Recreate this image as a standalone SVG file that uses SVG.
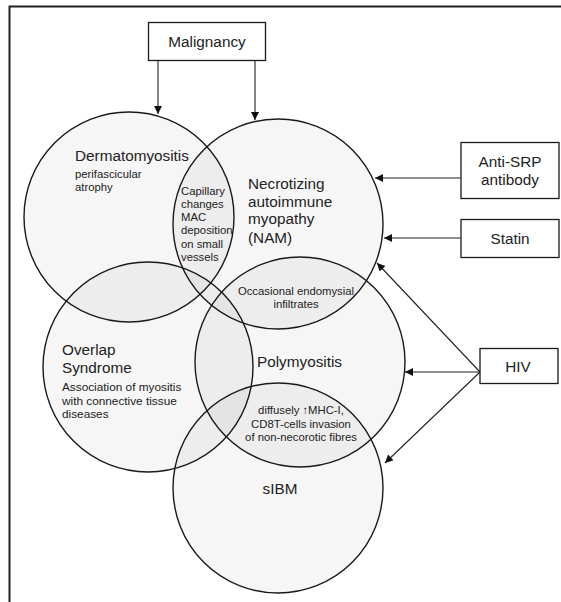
<svg xmlns="http://www.w3.org/2000/svg" width="561" height="602" viewBox="0 0 561 602">
<defs>
<marker id="ah" viewBox="0 0 10 10" refX="10" refY="5" markerWidth="9" markerHeight="8" markerUnits="userSpaceOnUse" orient="auto">
<path d="M0,0 L10,5 L0,10 z" fill="#111"/>
</marker>
</defs>
<style>
.c{fill:#000;fill-opacity:0.035;stroke:#1a1a1a;stroke-width:1.4}
.b{fill:#fff;stroke:#1a1a1a;stroke-width:1.3}
.t{font-family:"Liberation Sans",Arial,sans-serif;fill:#222}
.big{font-size:15.3px}
.sm{font-size:11.3px}
.e{stroke:#222;stroke-width:1.1;fill:none;marker-end:url(#ah)}
</style>
<rect width="561" height="602" fill="#fff"/>
<path d="M9.5,602 V6.5 H561" fill="none" stroke="#222" stroke-width="2"/>

<g id="dermatomyositis">
<circle class="c" cx="129" cy="217" r="105"/>
<text class="t big" x="75" y="161">Dermatomyositis</text>
<text class="t sm" x="75" y="178">perifascicular</text>
<text class="t sm" x="75" y="191">atrophy</text>
</g>
<g id="nam">
<circle class="c" cx="278" cy="224" r="105"/>
<text class="t big" x="248" y="189">Necrotizing</text>
<text class="t big" x="248" y="207">autoimmune</text>
<text class="t big" x="248" y="224">myopathy</text>
<text class="t big" x="248" y="243">(NAM)</text>
</g>
<g id="overlap">
<circle class="c" cx="148" cy="367" r="105"/>
<text class="t big" x="62" y="355">Overlap</text>
<text class="t big" x="62" y="373">Syndrome</text>
<text class="t sm" x="62" y="391" style="font-size:11.8px">Association of myositis</text>
<text class="t sm" x="62" y="405" style="font-size:11.8px">with connective tissue</text>
<text class="t sm" x="62" y="418" style="font-size:11.8px">diseases</text>
</g>
<g id="polymyositis">
<circle class="c" cx="300" cy="362" r="105"/>
<text class="t big" x="257" y="367">Polymyositis</text>
</g>
<g id="sibm">
<circle class="c" cx="278" cy="488" r="105"/>
<text class="t big" x="280" y="494" text-anchor="middle">sIBM</text>
</g>

<g id="capillary-label">
<text class="t sm" x="181" y="195">Capillary</text>
<text class="t sm" x="181" y="208">changes</text>
<text class="t sm" x="181" y="221">MAC</text>
<text class="t sm" x="181" y="234">deposition</text>
<text class="t sm" x="181" y="248">on small</text>
<text class="t sm" x="181" y="261">vessels</text>
</g>
<g id="endomysial-label">
<text class="t sm" x="296" y="295" text-anchor="middle">Occasional endomysial</text>
<text class="t sm" x="296" y="308" text-anchor="middle">infiltrates</text>
</g>
<g id="mhc-label">
<text class="t sm" x="301" y="414" text-anchor="middle">diffusely ↑MHC-I,</text>
<text class="t sm" x="301" y="428" text-anchor="middle">CD8T-cells invasion</text>
<text class="t sm" x="301" y="441" text-anchor="middle">of non-necorotic fibres</text>
</g>

<g id="malignancy">
<rect class="b" x="148.5" y="22.5" width="117" height="38"/>
<text class="t big" x="207" y="47" text-anchor="middle">Malignancy</text>
</g>
<g id="anti-srp">
<rect class="b" x="461" y="142.5" width="98" height="56"/>
<text class="t big" x="510" y="167" text-anchor="middle">Anti-SRP</text>
<text class="t big" x="510" y="185" text-anchor="middle">antibody</text>
</g>
<g id="statin">
<rect class="b" x="461" y="219.5" width="98" height="38"/>
<text class="t big" x="510" y="243.5" text-anchor="middle">Statin</text>
</g>
<g id="hiv">
<rect class="b" x="480" y="348.5" width="78" height="35"/>
<text class="t big" x="518" y="371.5" text-anchor="middle">HIV</text>
</g>

<g id="connectors">
<line class="e" x1="158" y1="61" x2="158" y2="114"/>
<line class="e" x1="255" y1="61" x2="255" y2="120"/>
<line class="e" x1="461" y1="178" x2="375" y2="178"/>
<line class="e" x1="461" y1="238" x2="384" y2="238"/>
<line class="e" x1="480" y1="372" x2="405" y2="372"/>
<line class="e" x1="480" y1="372" x2="377" y2="263"/>
<line class="e" x1="480" y1="372" x2="385" y2="463"/>
</g>
</svg>
